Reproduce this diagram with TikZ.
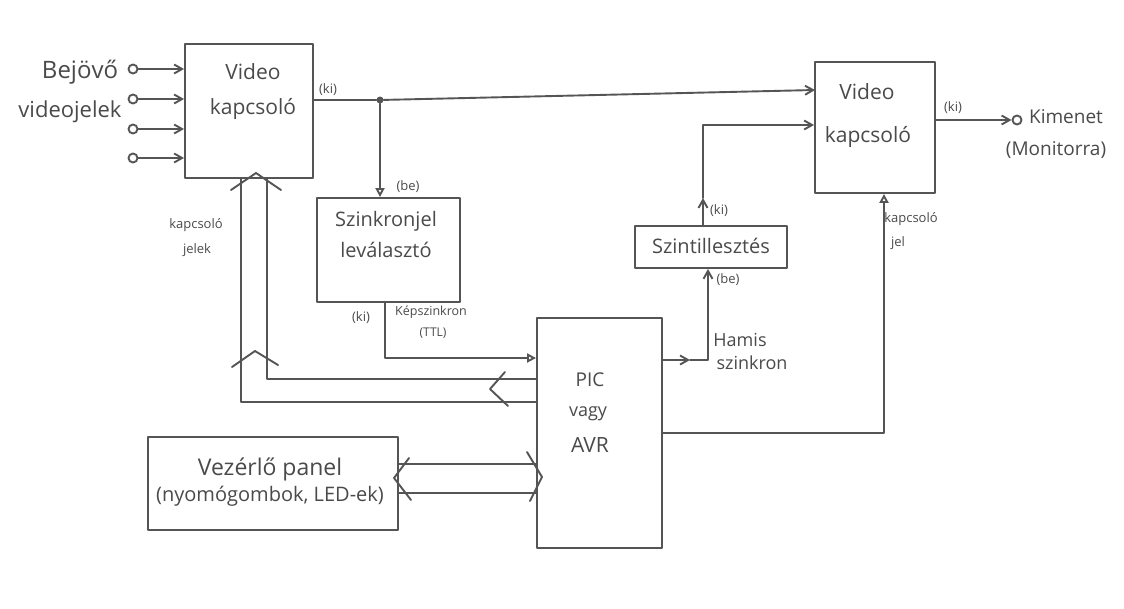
\documentclass[tikz,border=0pt]{standalone}
\usepackage{fontspec}
\setmainfont{Open Sans}
\usetikzlibrary{arrows.meta}
\definecolor{pencil}{HTML}{555555}
\definecolor{ink}{HTML}{4A4A4A}
\tikzset{
  x=1pt,y=-1pt,
  line/.style={draw=pencil,line width=1.9pt,line cap=round,line join=round},
  box/.style={line,rectangle,inner sep=0pt,fill=none},
  arr/.style={line,-{Straight Barb[length=8pt,width=9pt]}},
  tri/.style={line,-{Triangle[open,length=9pt,width=9pt]}},
  lbl/.style={text=ink,inner sep=0pt,font=\fontsize{#1}{#1}\selectfont},
  lbl/.default=16,
  pin/.style={line,circle,minimum size=9pt,inner sep=0pt,fill=white},
  dot/.style={circle,fill=pencil,minimum size=7pt,inner sep=0pt},
}
\begin{document}
\begin{tikzpicture}
\useasboundingbox (0,0) rectangle (1124,608);
\fill[white] (0,0) rectangle (1124,608);

% boxes
\node[box,minimum width=128pt,minimum height=134pt] (v1) at (249,111) {};
\node[box,minimum width=120pt,minimum height=131pt] (v2) at (875,127.5) {};
\node[box,minimum width=143pt,minimum height=104pt] (sz) at (388.5,250) {};
\node[box,minimum width=125pt,minimum height=230pt] (pic) at (599.5,433) {};
\node[box,minimum width=152pt,minimum height=42pt] (szint) at (711,247) {};
\node[box,minimum width=250pt,minimum height=93pt] (panel) at (273,483.5) {};

% input pins
\node[pin] (c1) at (133,69) {};
\node[pin] (c2) at (133,99) {};
\node[pin] (c3) at (133,129) {};
\node[pin] (c4) at (133,158) {};
\foreach \c in {c1,c2,c3,c4}{\draw[arr] (\c.east) -- (v1.west |- \c);}

% video out of v1
\coordinate (o1) at (313,100);
\node[dot] (d) at (380,100) {};
\coordinate (v2a) at (815,90);
\draw[line] (o1) -- (d);
\draw[arr] (d) -- (v2a);
\draw[tri] (d) -- (sz.north -| d);

% kepszinkron
\coordinate (k1) at (385,302);
\coordinate (k2) at (385,358);
\draw[tri] (k1) -- (k2) -- (pic.west |- k2);

% kapcsolo jelek (bus)
\coordinate (p1) at (537,379);
\coordinate (p2) at (537,402);
\coordinate (b1) at (267,379);
\coordinate (b2) at (241,402);
\draw[line] (p1) -- (b1) -- (v1.south -| b1);
\draw[line] (p2) -- (b2) -- (v1.south -| b2);
\coordinate (h1) at (256,173);
\draw[line] (231,190) -- (h1) -- (281,190);
\coordinate (h2) at (255,351);
\draw[line] (232,367) -- (h2) -- (278,365);
\coordinate (h3) at (490,389);
\draw[line] (505,372) -- (h3) -- (508,406);

% panel bus
\coordinate (q1) at (398,464);
\coordinate (q2) at (398,493);
\draw[line] (q1) -- (pic.west |- q1);
\draw[line] (q2) -- (pic.west |- q2);
\coordinate (h4) at (394,478);
\draw[line] (409,458) -- (h4) -- (411,500);
\coordinate (h5) at (542,477);
\draw[line] (527,452) -- (h5) -- (530,501);

% hamis szinkron
\coordinate (s1) at (662,360);
\coordinate (s2) at (690,360);
\coordinate (s3) at (708,360);
\draw[arr] (s1) -- (s2);
\draw[arr] (s2) -- (s3) -- (szint.south -| s3);

% szintillesztes out
\coordinate (t0) at (703,226);
\coordinate (t1) at (703,198);
\coordinate (t2) at (703,125);
\draw[arr] (t0) -- (t1);
\draw[arr] (t1) -- (t2) -- (v2.west |- t2);

% kapcsolo jel
\coordinate (j1) at (662,433);
\coordinate (j2) at (884,433);
\draw[tri] (j1) -- (j2) -- (v2.south -| j2);

% output
\node[pin] (cout) at (1017,120) {};
\draw[arr] (v2.east |- cout) -- (cout.west);

% labels
\node[lbl=24] (l1) at (80,72) {Bejövő};
\node[lbl=22] (l2) at (70,112) {videojelek};
\node[lbl=21] (l3) at (253,72) {Video};
\node[lbl=21] (l4) at (253,109) {kapcsoló};
\node[lbl=13] (l5) at (328,90) {(ki)};
\node[lbl=13] (l6) at (408,187) {(be)};
\node[lbl=20] (l7) at (386,221) {Szinkronjel};
\node[lbl=20] (l8) at (386,250) {leválasztó};
\node[lbl=13] (l9) at (361,318) {(ki)};
\node[lbl=12.5] (l10) at (431,312) {Képszinkron};
\node[lbl=12] (l11) at (433,333) {(TTL)};
\node[lbl=13] (l12) at (196,225) {kapcsoló};
\node[lbl=13] (l13) at (197,250) {jelek};
\node[lbl=19] (l14) at (590,380) {PIC};
\node[lbl=18] (l15) at (588,414) {vagy};
\node[lbl=21] (l16) at (590,445) {AVR};
\node[lbl=23] (l17) at (270,469) {Vezérlő panel};
\node[lbl=20] (l18) at (270,496) {(nyomógombok, LED-ek)};
\node[lbl=18] (l19) at (740,340) {Hamis};
\node[lbl=18] (l20) at (752,363) {szinkron};
\node[lbl=13] (l21) at (728,280) {(be)};
\node[lbl=13] (l22) at (719,211) {(ki)};
\node[lbl=20] (l23) at (711,246) {Szintillesztés};
\node[lbl=13] (l24) at (911,219) {kapcsoló};
\node[lbl=13] (l25) at (898,243) {jel};
\node[lbl=21] (l26) at (867,92) {Video};
\node[lbl=21] (l27) at (868,137) {kapcsoló};
\node[lbl=13] (l28) at (953,108) {(ki)};
\node[lbl=19] (l29) at (1066,117) {Kimenet};
\node[lbl=19] (l30) at (1056,150) {(Monitorra)};
\end{tikzpicture}
\end{document}
